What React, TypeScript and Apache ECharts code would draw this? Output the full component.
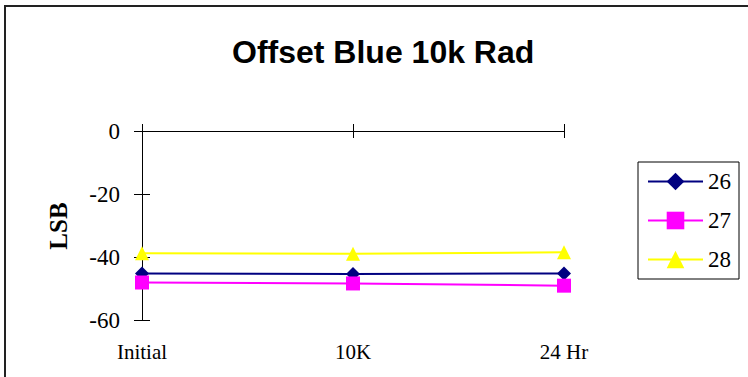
import React, { useEffect, useRef } from "react";
import * as echarts from "echarts";

const categories = ["Initial", "10K", "24 Hr"];
const seriesNames = ["26", "27", "28"];
const s26 = [-45.2, -45.4, -45.2];
const s27 = [-48.1, -48.4, -49.1];
const s28 = [-38.8, -39.0, -38.5];
const yTicks = { min: -60, max: 0, interval: 20 };

const serif = "'Liberation Serif', 'Times New Roman', serif";
const sans = "'Liberation Sans', Arial, sans-serif";

export default function App() {
  const ref = useRef<HTMLDivElement>(null);
  useEffect(() => {
    if (!ref.current) return;
    const chart = echarts.init(ref.current, undefined, { renderer: "svg" });
    const colors = ["#000080", "#FF00FF", "#FFFF00"];
    const symbols = ["diamond", "rect", "triangle"];
    const data = [s26, s27, s28];
    chart.setOption({
      animation: false,
      backgroundColor: "#ffffff",
      title: {
        text: "Offset Blue 10k Rad",
        left: 227,
        top: 31,
        textStyle: { fontFamily: sans, fontWeight: "bold", fontSize: 32, color: "#000" },
      },
      legend: {
        orient: "vertical",
        left: 638,
        top: 162,
        padding: [8, 8, 8, 9],
        borderColor: "#000",
        borderWidth: 1,
        itemWidth: 55,
        itemHeight: 22,
        itemGap: 16,
        data: seriesNames,
        textStyle: { fontFamily: serif, fontSize: 23, color: "#000", lineHeight: 22 },
      },
      grid: { left: 142, right: 184, top: 131, bottom: 57, containLabel: false },
      xAxis: [
        {
          type: "category",
          data: categories,
          position: "top",
          boundaryGap: false,
          axisLine: { show: true, lineStyle: { color: "#000", width: 1 } },
          axisTick: { show: true, inside: false, length: 7, lineStyle: { color: "#000" } },
          axisLabel: { show: false },
          splitLine: { show: false },
        },
        {
          type: "category",
          data: categories,
          position: "top",
          boundaryGap: false,
          axisLine: { show: false },
          axisTick: { show: true, inside: true, length: 7, lineStyle: { color: "#000" } },
          axisLabel: { show: false },
          splitLine: { show: false },
        },
        {
          type: "category",
          data: categories,
          position: "bottom",
          boundaryGap: false,
          axisLine: { show: false },
          axisTick: { show: false },
          axisLabel: { show: true, margin: 21, fontFamily: serif, fontSize: 21, color: "#000" },
          splitLine: { show: false },
        },
      ],
      yAxis: [
        {
          type: "value",
          position: "left",
          min: yTicks.min,
          max: yTicks.max,
          interval: yTicks.interval,
          axisLine: { show: true, lineStyle: { color: "#000", width: 1 } },
          axisTick: { show: true, inside: false, length: 8, lineStyle: { color: "#000" } },
          axisLabel: { margin: 22, fontFamily: serif, fontSize: 23, color: "#000" },
          splitLine: { show: false },
        },
        {
          type: "value",
          position: "left",
          min: yTicks.min,
          max: yTicks.max,
          interval: yTicks.interval,
          axisLine: { show: false },
          axisTick: { show: true, inside: true, length: 8, lineStyle: { color: "#000" } },
          axisLabel: { show: false },
          splitLine: { show: false },
        },
      ],
      graphic: [
        {
          type: "rect",
          shape: { x: 5, y: 6, width: 900, height: 500 },
          style: { fill: "none", stroke: "#222", lineWidth: 2 },
          silent: true,
        },
        {
          type: "text",
          x: 58,
          y: 226,
          rotation: Math.PI / 2,
          style: {
            text: "LSB",
            fontFamily: serif,
            fontWeight: "bold",
            fontSize: 25,
            fill: "#000",
            align: "center",
            verticalAlign: "middle",
          },
        },
      ],
      series: seriesNames.map((name, i) => ({
        name,
        type: "line",
        xAxisIndex: 0,
        yAxisIndex: 0,
        data: data[i],
        symbol: symbols[i],
        symbolSize: 14,
        lineStyle: { color: colors[i], width: 2 },
        itemStyle: { color: colors[i] },
        z: 3 + i,
      })),
    });
    return () => chart.dispose();
  }, []);
  return (
    <div
      ref={ref}
      style={{ position: "fixed", left: 0, top: 0, width: 748, height: 377 }}
    />
  );
}
